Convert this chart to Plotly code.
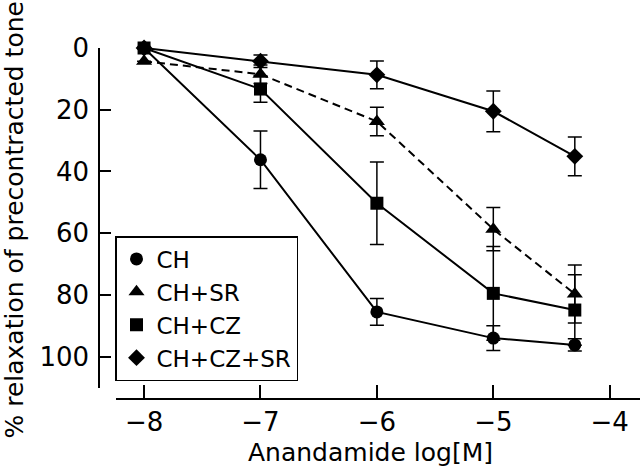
import plotly.graph_objects as go

# Data
log_conc = [-8, -7, -6, -5, -4.3]
series_names = ["CH", "CH+SR", "CH+CZ", "CH+CZ+SR"]
ch_vals = [0, 36.2, 85.5, 94.0, 96.2]
ch_err = [0, 9.3, 4.3, 4.0, 2.0]
ch_sr_vals = [4.3, 8.5, 23.8, 58.7, 79.7]
ch_sr_err = [0, 3.0, 4.6, 7.0, 9.4]
ch_cz_vals = [0, 13.3, 50.3, 79.5, 84.9]
ch_cz_err = [0, 4.3, 13.4, 15.2, 11.4]
ch_cz_sr_vals = [0, 4.3, 8.7, 20.5, 35.1]
ch_cz_sr_err = [0, 2.0, 4.5, 6.6, 6.3]
y_ticks = [0, 20, 40, 60, 80, 100]
x_ticks = [-8, -7, -6, -5, -4]

FONT = "DejaVu Sans"
W, H = 640, 469
ML, MR, MT, MB = 99, 0, 48, 70

styles = {
    "CH": dict(symbol="circle", size=13, dash="solid"),
    "CH+SR": dict(symbol="triangle-up", size=14, dash="8px,5px"),
    "CH+CZ": dict(symbol="square", size=13, dash="solid"),
    "CH+CZ+SR": dict(symbol="diamond", size=13, dash="solid"),
}
data = {
    "CH": (ch_vals, ch_err),
    "CH+SR": (ch_sr_vals, ch_sr_err),
    "CH+CZ": (ch_cz_vals, ch_cz_err),
    "CH+CZ+SR": (ch_cz_sr_vals, ch_cz_sr_err),
}

fig = go.Figure()
# draw order: CH last so its markers sit on top
for name in ["CH+CZ+SR", "CH+CZ", "CH+SR", "CH"]:
    vals, err = data[name]
    st = styles[name]
    fig.add_trace(go.Scatter(
        x=log_conc, y=vals, mode="lines+markers", name=name, showlegend=False,
        line=dict(color="black", width=2, dash=st["dash"]),
        marker=dict(symbol=st["symbol"], size=st["size"], color="black"),
        error_y=dict(type="data", array=err, visible=True, color="black",
                     thickness=1.5, width=7),
        cliponaxis=False,
    ))
# legend entries (markers only)
for name in series_names:
    st = styles[name]
    fig.add_trace(go.Scatter(
        x=[None], y=[None], mode="markers", name=name,
        marker=dict(symbol=st["symbol"], size=st["size"], color="black"),
    ))

plot_w = W - ML - MR
plot_h = H - MT - MB
x_left_px = 116
y_bottom_px = 387.5

fig.update_layout(
    width=W, height=H,
    margin=dict(l=ML, r=MR, t=MT, b=MB),
    paper_bgcolor="white", plot_bgcolor="white",
    font=dict(family=FONT, color="black", size=25),
    showlegend=True,
    legend=dict(
        x=(115 - ML) / plot_w, y=(H - MB - 381) / plot_h,
        xanchor="left", yanchor="bottom",
        bordercolor="black", borderwidth=1.5, bgcolor="white",
        font=dict(family=FONT, size=23, color="black"),
        tracegroupgap=0, itemwidth=30,
    ),
    xaxis=dict(
        range=[-8.241, -3.740], domain=[(x_left_px - ML) / plot_w, 1],
        anchor="free", position=0,
        tickvals=x_ticks, ticks="inside", ticklen=13, tickwidth=1.5,
        tickcolor="black", showline=True, linecolor="black", linewidth=1.5,
        showgrid=False, zeroline=False,
        tickfont=dict(family=FONT, size=26, color="black"),
    ),
    yaxis=dict(
        range=[110, 0], domain=[(H - MB - y_bottom_px) / plot_h, 1],
        anchor="free", position=0,
        tickvals=y_ticks, ticks="inside", ticklen=11, tickwidth=1.5,
        tickcolor="black", showline=True, linecolor="black", linewidth=1.5,
        showgrid=False, zeroline=False, ticklabelstandoff=4,
        tickfont=dict(family=FONT, size=26, color="black"),
    ),
    annotations=[
        dict(text="Anandamide log[M]", xref="paper", yref="paper",
             x=(370 - ML) / plot_w, y=-(453 - (H - MB)) / plot_h,
             xanchor="center", yanchor="middle", showarrow=False,
             font=dict(family=FONT, size=25, color="black")),
        dict(text="% relaxation of precontracted tone", xref="paper", yref="paper",
             x=-(ML - 14) / plot_w, y=((H - MB) - 220.5) / plot_h,
             xanchor="center", yanchor="middle", showarrow=False, textangle=-90,
             font=dict(family=FONT, size=25, color="black")),
    ],
)

fig.write_html(
    "out.html",
    config={"displayModeBar": False},
    post_script="document.body.style.margin='0px';document.body.style.padding='0px';",
)
